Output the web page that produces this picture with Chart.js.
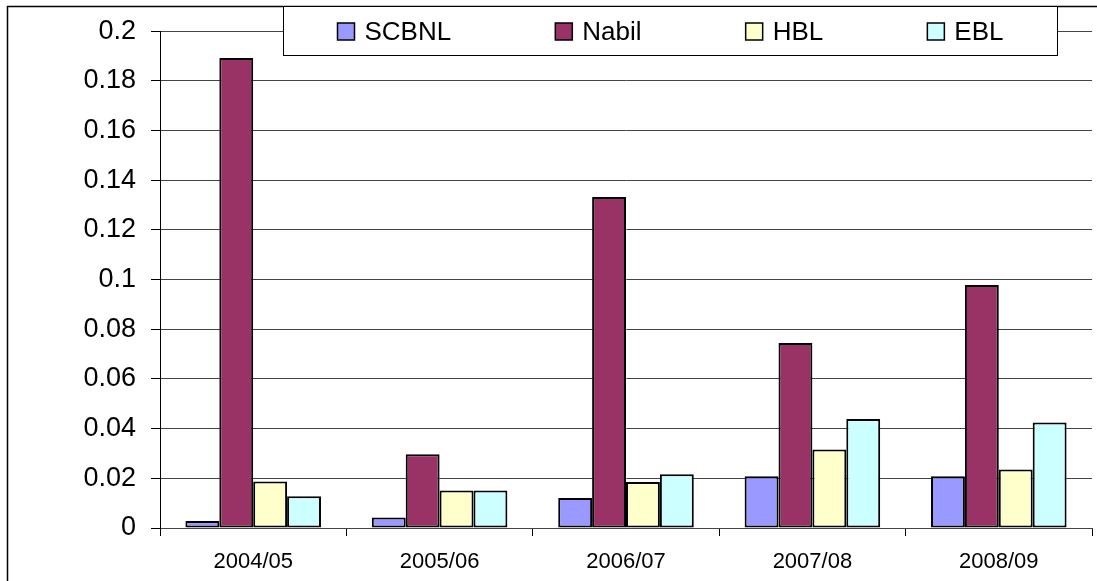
<!DOCTYPE html>
<html>
<head>
<meta charset="utf-8">
<script src="https://cdn.jsdelivr.net/npm/chart.js@4.4.1/dist/chart.umd.min.js"></script>
<style>
  html, body { margin: 0; padding: 0; background: #ffffff; }
  #wrap { width: 1097px; height: 581px; position: relative; }
</style>
</head>
<body>
<div id="wrap"><canvas id="c" width="1097" height="581"></canvas></div>
<script>
const categories = ['2004/05', '2005/06', '2006/07', '2007/08', '2008/09'];
const seriesNames = ['SCBNL', 'Nabil', 'HBL', 'EBL'];
const scbnl = [0.0028, 0.0042, 0.0121, 0.0208, 0.0208];
const nabil = [0.1892, 0.0297, 0.1333, 0.0745, 0.0978];
const hbl   = [0.0187, 0.0151, 0.0185, 0.0316, 0.0236];
const ebl   = [0.0128, 0.0151, 0.0216, 0.0439, 0.0425];
const yMin = 0, yMax = 0.2, yStep = 0.02;

const colors = ['#9999FF', '#993366', '#FFFFCC', '#CCFFFF'];
const FONT = '"Liberation Sans", Arial, sans-serif';

const frameAndLegend = {
  id: 'frameAndLegend',
  afterDraw(chart) {
    const ctx = chart.ctx;
    ctx.save();
    // outer chart border
    ctx.strokeStyle = '#000';
    ctx.lineWidth = 1.5;
    ctx.beginPath();
    ctx.moveTo(7.5, 700);
    ctx.lineTo(7.5, 6.5);
    ctx.lineTo(1200, 6.5);
    ctx.stroke();
    // legend box
    const bx = 283.5, by = 6.5, bw = 774, bh = 49;
    ctx.fillStyle = '#fff';
    ctx.fillRect(bx, by, bw, bh);
    ctx.lineWidth = 1;
    ctx.strokeStyle = '#000';
    ctx.strokeRect(bx, by, bw, bh);
    ctx.font = '26px ' + FONT;
    ctx.textBaseline = 'middle';
    const sq = 17, gapSq = 10;
    const ds = chart.data.datasets;
    const widths = ds.map(d => sq + gapSq + ctx.measureText(d.label).width);
    const total = widths.reduce((a, b) => a + b, 0);
    const margin = 54;
    const gap = (bw - 2 * margin - total) / (ds.length - 1);
    let x = bx + margin;
    const cy = 31.5;
    ds.forEach((d, i) => {
      ctx.fillStyle = d.backgroundColor;
      ctx.fillRect(x, cy - sq / 2, sq, sq);
      ctx.lineWidth = 1.5;
      ctx.strokeStyle = '#000';
      ctx.strokeRect(x, cy - sq / 2, sq, sq);
      ctx.fillStyle = '#000';
      ctx.fillText(d.label, x + sq + gapSq, cy + 1);
      x += widths[i] + gap;
    });
    ctx.restore();
  }
};

const datasets = [scbnl, nabil, hbl, ebl].map((vals, i) => ({
  label: seriesNames[i],
  data: vals,
  backgroundColor: colors[i],
  borderColor: '#000',
  borderWidth: 2,
  borderSkipped: false,
  categoryPercentage: 4 / 5.5,
  barPercentage: 1.0
}));

new Chart(document.getElementById('c'), {
  type: 'bar',
  data: { labels: categories, datasets },
  options: {
    responsive: false,
    animation: false,
    layout: { padding: { left: 0, right: 5, top: 30, bottom: 0 } },
    plugins: {
      legend: { display: false },
      tooltip: { enabled: false },
      title: { display: false }
    },
    scales: {
      x: {
        afterFit(scale) { scale.height = 53; },
        grid: {
          display: true,
          offset: true,
          drawOnChartArea: false,
          drawTicks: true,
          tickLength: 8,
          color: '#000',
          lineWidth: 1
        },
        border: { display: true, color: '#444', width: 1 },
        ticks: {
          color: '#000',
          font: { family: FONT, size: 22 },
          padding: 13,
          maxRotation: 0
        }
      },
      y: {
        min: yMin,
        max: yMax,
        afterFit(scale) { scale.width = 160; },
        grid: {
          color: '#444',
          lineWidth: 1,
          drawTicks: true,
          tickLength: 9,
          tickColor: '#000'
        },
        border: { display: true, color: '#000', width: 1 },
        ticks: {
          stepSize: yStep,
          color: '#000',
          font: { family: FONT, size: 27 },
          padding: 15,
          callback: v => String(Number(v.toFixed(2)))
        }
      }
    }
  },
  plugins: [frameAndLegend]
});
</script>
</body>
</html>
